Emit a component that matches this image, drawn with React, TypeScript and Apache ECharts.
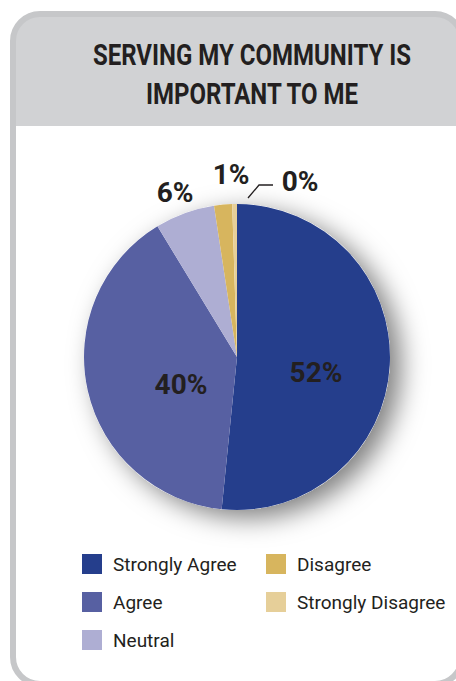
import React, { useEffect, useRef } from "react";
import * as echarts from "echarts";

const categories = ["Strongly Agree", "Agree", "Neutral", "Disagree", "Strongly Disagree"];
const values = [51.6, 39.7, 6.3, 1.9, 0.5];
const valueLabels = ["52%", "40%", "6%", "1%", "0%"];
const colors = ["#253e8c", "#5760a2", "#aeaed3", "#d7b55e", "#e6cf99"];
const titleLines = ["SERVING MY COMMUNITY IS", "IMPORTANT TO ME"];
const legendCol1 = ["Strongly Agree", "Agree", "Neutral"];
const legendCol2 = ["Disagree", "Strongly Disagree"];

const FONT = "Roboto, 'Liberation Sans', sans-serif";
const INK = "#231f20";

// label anchor positions (centre of text) for each slice
const labelPos: number[][] = [
  [316, 372],
  [181, 384],
  [175, 192],
  [231, 174],
  [300, 181],
];

export default function App() {
  const ref = useRef<HTMLDivElement>(null);
  useEffect(() => {
    if (!ref.current) return;
    const chart = echarts.init(ref.current, undefined, { renderer: "svg" });
    const legendBase = {
      orient: "vertical" as const,
      itemWidth: 20,
      itemHeight: 20,
      itemGap: 18,
      icon: "rect",
      padding: 0,
      selectedMode: false,
      textStyle: {
        fontFamily: FONT,
        fontSize: 19,
        color: INK,
        lineHeight: 20,
        padding: [0, 0, 0, 6],
      },
    };
    chart.setOption({
      animation: false,
      color: colors,
      graphic: [
        {
          type: "rect",
          z: -10,
          shape: { x: 13, y: 14, width: 449, height: 670, r: 27 },
          style: { fill: "#ffffff" },
          silent: true,
        },
        {
          type: "rect",
          z: -9,
          shape: { x: 13, y: 14, width: 449, height: 112, r: [27, 27, 0, 0] },
          style: { fill: "#d1d2d4" },
          silent: true,
        },
        {
          type: "rect",
          z: -8,
          shape: { x: 13, y: 14, width: 449, height: 670, r: 27 },
          style: { fill: "none", stroke: "#c6c7c9", lineWidth: 6 },
          silent: true,
        },
        ...titleLines.map((t, i) => ({
          type: "text",
          z: 10,
          x: 252,
          y: 55 + i * 39,
          scaleX: 0.8,
          style: {
            text: t,
            x: 0,
            y: 0,
            align: "center",
            verticalAlign: "middle",
            fontFamily: FONT,
            fontWeight: "bold",
            fontSize: 30,
            fill: INK,
          },
          silent: true,
        })),
      ],
      legend: [
        { ...legendBase, left: 82, top: 554, data: legendCol1 },
        { ...legendBase, left: 266, top: 554, data: legendCol2 },
      ],
      series: [
        {
          type: "pie",
          name: "shadow",
          silent: true,
          z: 1,
          center: [237, 357],
          radius: 153,
          label: { show: false },
          labelLine: { show: false },
          data: [
            {
              value: 1,
              name: "__shadow",
              itemStyle: {
                color: "#ffffff",
                shadowBlur: 26,
                shadowColor: "rgba(0,0,0,0.5)",
                shadowOffsetX: 11,
                shadowOffsetY: 8,
              },
            },
          ],
        },
        {
          type: "pie",
          name: "Serving",
          z: 2,
          center: [237, 357],
          radius: 153,
          startAngle: 90,
          clockwise: true,
          avoidLabelOverlap: false,
          itemStyle: { borderWidth: 0 },
          label: {
            show: true,
            position: "outside",
            fontFamily: FONT,
            fontWeight: "bold",
            fontSize: 28,
            color: INK,
            formatter: (p: any) => valueLabels[p.dataIndex],
          },
          labelLine: { show: false, lineStyle: { color: INK, width: 1.3 } },
          labelLayout: (p: any) => {
            const pos = labelPos[p.dataIndex];
            const res: any = {
              x: pos[0],
              y: pos[1],
              align: "center",
              verticalAlign: "middle",
            };
            if (p.dataIndex === 4) {
              res.labelLinePoints = [
                [248, 198],
                [259, 185],
                [273, 185],
              ];
            }
            return res;
          },
          data: categories.map((c, i) => ({
            name: c,
            value: values[i],
            itemStyle: { color: colors[i] },
            label: i < 2 ? { position: "inside" } : undefined,
            labelLine: i === 4 ? { show: true, length: 10, length2: 14 } : undefined,
          })),
        },
      ],
    });
    return () => chart.dispose();
  }, []);
  return (
    <div
      ref={ref}
      style={{ position: "absolute", left: 0, top: 0, width: 456, height: 681 }}
    />
  );
}
